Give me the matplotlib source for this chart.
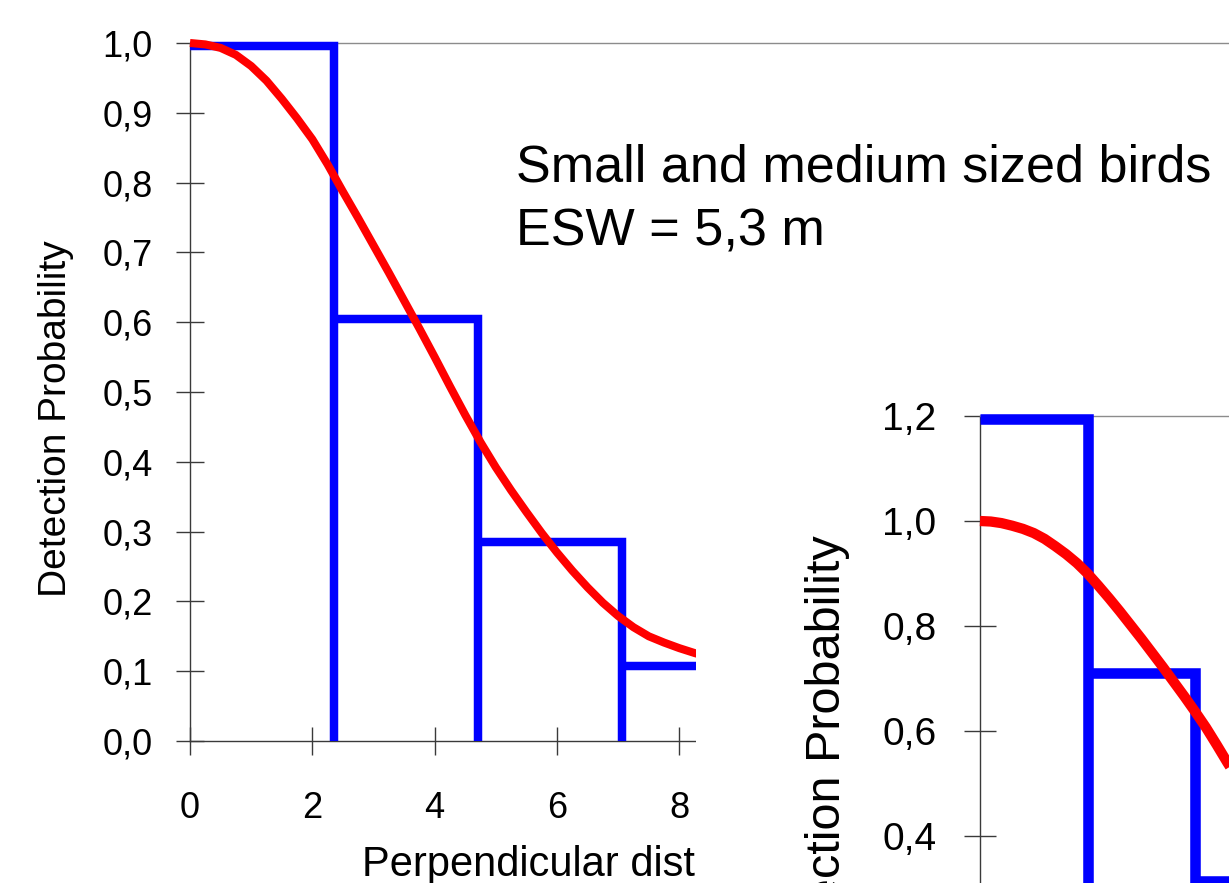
import matplotlib
matplotlib.use("Agg")
import matplotlib.pyplot as plt
from matplotlib.patches import Rectangle

plt.rcParams['font.family'] = ['Liberation Sans', 'DejaVu Sans']

# left chart: small and medium sized birds
bins_1 = [0, 2.354, 4.708, 7.062, 9.416]
freq_1 = [0.995, 0.605, 0.285, 0.107]
curve_x_1 = [0, 0.25, 0.5, 0.75, 1.0, 1.25, 1.5, 1.75, 2.0, 2.25, 2.5, 2.75, 3.0, 3.25,
             3.5, 3.75, 4.0, 4.25, 4.5, 4.75, 5.0, 5.25, 5.5, 5.75, 6.0, 6.25, 6.5,
             6.75, 7.0, 7.25, 7.5, 7.75, 8.0, 8.25, 8.5]
curve_y_1 = [1.0, 0.998, 0.993, 0.983, 0.967, 0.946, 0.92, 0.892, 0.862, 0.826, 0.787,
             0.749, 0.71, 0.671, 0.631, 0.591, 0.55, 0.508, 0.467, 0.428, 0.392, 0.359,
             0.328, 0.298, 0.27, 0.244, 0.22, 0.198, 0.179, 0.163, 0.15, 0.141, 0.133,
             0.126, 0.12]
xticks_1 = [0, 2, 4, 6, 8]
yticks_1 = [0.0, 0.1, 0.2, 0.3, 0.4, 0.5, 0.6, 0.7, 0.8, 0.9, 1.0]
ylabels_1 = ['0,0', '0,1', '0,2', '0,3', '0,4', '0,5', '0,6', '0,7', '0,8', '0,9', '1,0']

# right chart (mostly off the picture)
bins_2 = [0, 2.5, 5.0, 7.5]
freq_2 = [1.195, 0.711, 0.314]
curve_x_2 = [0, 0.25, 0.5, 0.75, 1.0, 1.25, 1.5, 1.75, 2.0, 2.25, 2.5, 2.75, 3.0,
             3.25, 3.5, 3.75, 4.0, 4.25, 4.5, 4.75, 5.0, 5.25, 5.5, 5.75, 6.0]
curve_y_2 = [1.0, 0.999, 0.996, 0.991, 0.985, 0.977, 0.966, 0.952, 0.937, 0.92, 0.9,
             0.877, 0.853, 0.828, 0.802, 0.776, 0.749, 0.722, 0.694, 0.666, 0.637,
             0.607, 0.574, 0.54, 0.508]
yticks_2 = [0.0, 0.2, 0.4, 0.6, 0.8, 1.0, 1.2]
ylabels_2 = ['0,0', '0,2', '0,4', '0,6', '0,8', '1,0', '1,2']

W, H = 1229, 883
fig = plt.figure(figsize=(W / 100, H / 100), dpi=100)
fig.patch.set_facecolor('white')


def px_axes(left, top, width, height):
    # pixel box (from top-left) -> figure fraction
    return [left / W, (H - top - height) / H, width / W, height / H]


def style_axes(ax, lw_tick, tick_len, pad):
    for side in ['left', 'bottom']:
        ax.spines[side].set_color('#3a3a3a')
        ax.spines[side].set_linewidth(1.0)
    ax.spines['top'].set_color('#8c8c8c')
    ax.spines['top'].set_linewidth(1.0)
    ax.spines['right'].set_visible(False)
    ax.tick_params(direction='inout', length=tick_len, width=lw_tick,
                   color='#3a3a3a', pad=pad, top=False, right=False)


def draw_hist(ax, edges, heights, **kw):
    for i, h in enumerate(heights):
        ax.plot([edges[i], edges[i + 1], edges[i + 1]], [h, h, 0], **kw)


# ---- chart 1
ux1 = 61.17
ax1 = fig.add_axes(px_axes(190, 43, 17.5 * ux1, 698))
ax1.set_xlim(0, 17.5)
ax1.set_ylim(0, 1.0)
style_axes(ax1, 1.0, 20, 17)
ax1.set_yticks(yticks_1)
ax1.set_yticklabels(ylabels_1, fontsize=26)
ax1.set_xticks(xticks_1)
ax1.set_xticklabels([str(t) for t in xticks_1], fontsize=26)
ax1.tick_params(axis='x', pad=26)

draw_hist(ax1, bins_1, freq_1, color='#0000ff', lw=6.1, solid_joinstyle='miter',
          solid_capstyle='butt', clip_on=False, zorder=3)
ax1.plot(curve_x_1, curve_y_1, color='#ff0000', lw=5.8, solid_capstyle='butt',
         clip_on=False, zorder=4)

ax1.set_ylabel('Detection Probability', fontsize=28)
ax1.yaxis.set_label_coords((74 - 190) / (17.5 * ux1), 0.462)
ax1.set_xlabel('Perpendicular distance (m)', fontsize=30)
ax1.xaxis.label.set_ha('left')
ax1.xaxis.label.set_va('baseline')
ax1.xaxis.set_label_coords((362 - 190) / (17.5 * ux1), (741 - 876) / 698)

fig.text(516 / W, 1 - 182 / H, 'Small and medium sized birds', fontsize=37.5, va='baseline')
fig.text(516 / W, 1 - 246 / H, 'ESW = 5,3 m', fontsize=37.5, va='baseline')

# white block of the second chart lying over the first one
cover = Rectangle((696 / W, 0), 1 - 696 / W, (H - 380) / H, transform=fig.transFigure,
                  facecolor='white', edgecolor='none', zorder=1)
fig.add_artist(cover)

# ---- chart 2
ux2 = 43.04
uy2 = 525.5
ax2 = fig.add_axes(px_axes(980, 1046.5 - 1.2 * uy2, 15 * ux2, 1.2 * uy2))
ax2.set_zorder(2)
ax2.set_xlim(0, 15)
ax2.set_ylim(0, 1.2)
style_axes(ax2, 1.0, 23, 20)
ax2.set_yticks(yticks_2)
ax2.set_yticklabels(ylabels_2, fontsize=28)
ax2.set_xticks([])  # x axis of this chart lies below the picture

draw_hist(ax2, bins_2, freq_2, color='#0000ff', lw=7.6, solid_joinstyle='miter',
          solid_capstyle='butt', clip_on=False, zorder=3)
ax2.plot(curve_x_2, curve_y_2, color='#ff0000', lw=7.4, solid_capstyle='butt',
         clip_on=False, zorder=4)

ax2.set_ylabel('Detection Probability', fontsize=35)
ax2.yaxis.set_label_coords((850 - 980) / (15 * ux2), (1046.5 - 758.5) / (1.2 * uy2))

fig.savefig('out.png', dpi=100, facecolor='white')
